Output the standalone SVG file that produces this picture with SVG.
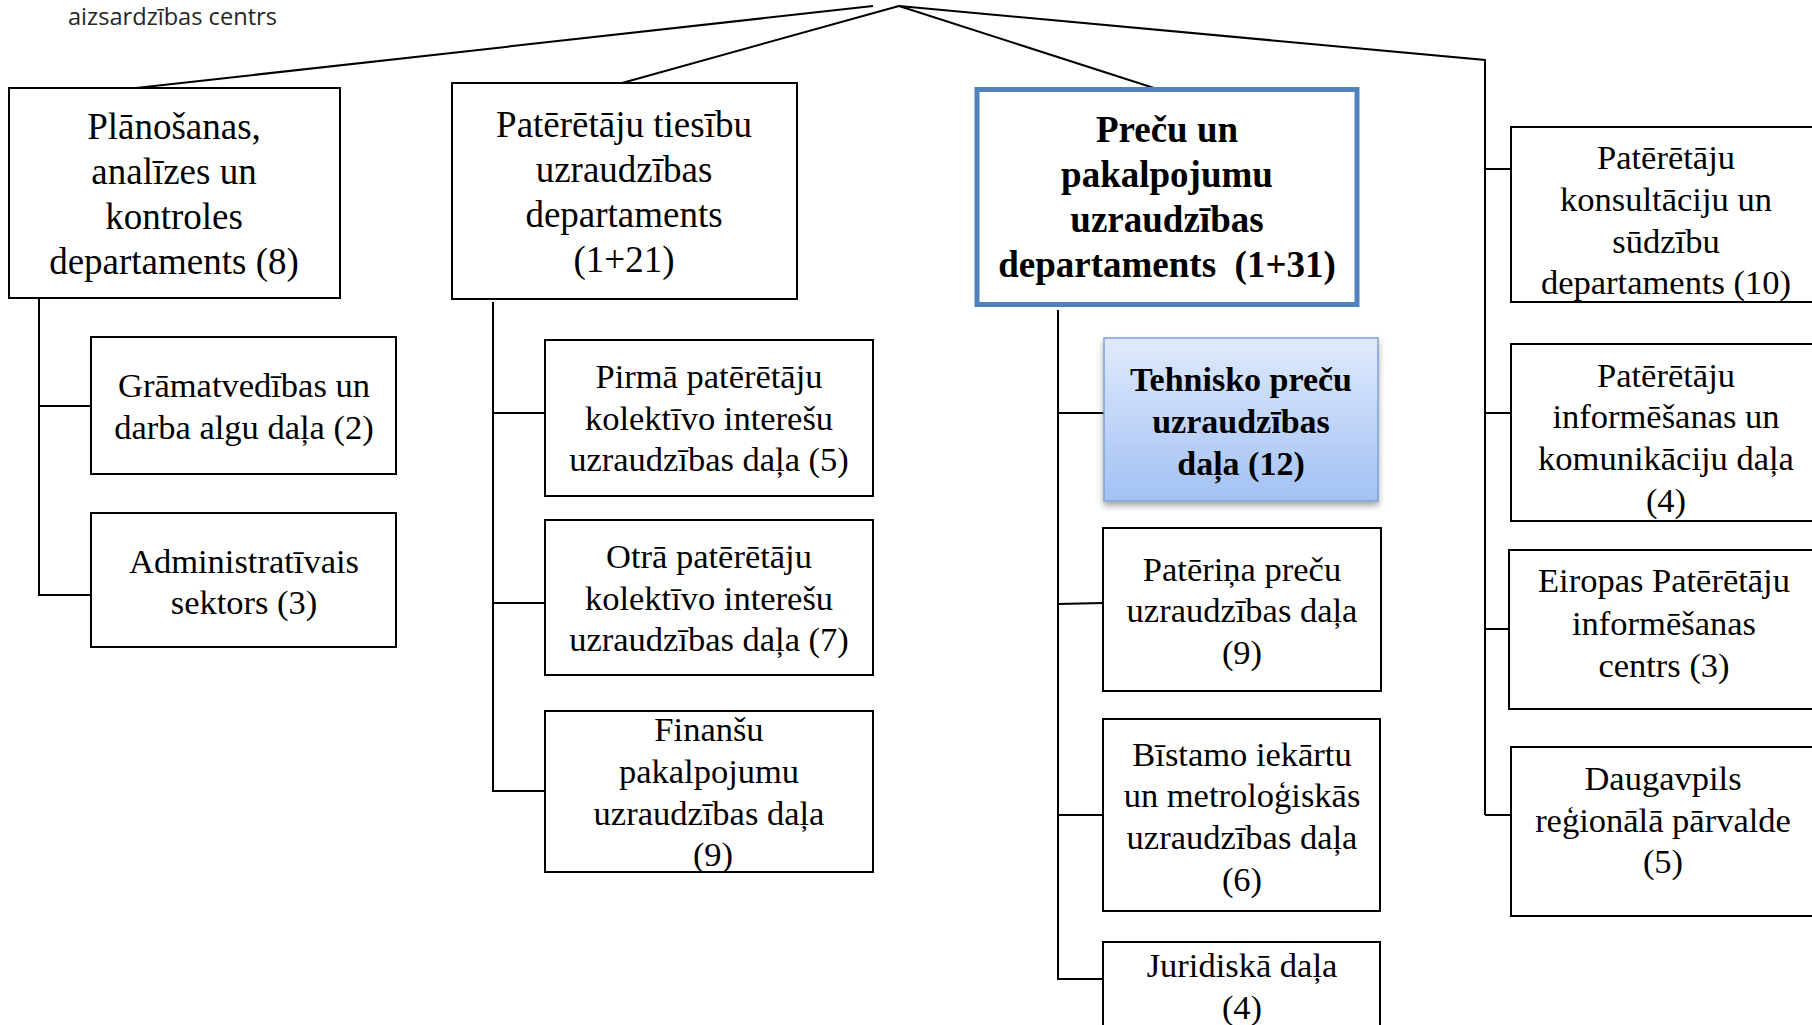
<svg xmlns="http://www.w3.org/2000/svg" width="1812" height="1025" viewBox="0 0 1812 1025">
<style>
.box{fill:#fff;stroke:#000;stroke-width:2}
.t{font-family:"Liberation Serif","Times New Roman",serif;font-size:34.5px;fill:#000;text-anchor:middle}
.tl{font-size:37px}
.b{font-weight:bold}
.c{fill:none;stroke:#000;stroke-width:2}
</style>
<defs>
<linearGradient id="gb" x1="0" y1="0" x2="0" y2="1">
<stop offset="0" stop-color="#dfeafc"/>
<stop offset="1" stop-color="#a3c1f4"/>
</linearGradient>
<filter id="sh" x="-10%" y="-10%" width="120%" height="130%">
<feDropShadow dx="0" dy="4" stdDeviation="3" flood-color="#000" flood-opacity="0.35"/>
</filter>
</defs>
<rect width="1812" height="1025" fill="#fff"/>
<text x="68" y="25" font-family="'Open Sans','DejaVu Sans',sans-serif" font-size="24" fill="#262626" textLength="209" lengthAdjust="spacingAndGlyphs">aizsardzības centrs</text>
<g id="connectors">
<path class="c" d="M873 6 L136 88"/>
<path class="c" d="M899 6 L622 83"/>
<path class="c" d="M899 6 L1154 88"/>
<path class="c" d="M899 6 L1485 60 L1485 815"/>
<path class="c" d="M39 298 L39 595 L91 595 M39 406 L91 406"/>
<path class="c" d="M493 302 L493 791 L545 791 M493 413 L545 413 M493 603 L545 603"/>
<path class="c" d="M1058 310 L1058 979 L1103 979 M1058 413 L1104 413 M1058 604 L1103 603 M1058 815 L1103 815"/>
<path class="c" d="M1485 169 L1511 169 M1485 413 L1511 413 M1485 629 L1509 629 M1485 815 L1511 815"/>
<path d="M1154 304 L1181 304" stroke="#000" stroke-width="2.5"/>
</g>
<g id="n1">
<rect class="box" x="9" y="88" width="331" height="210"/>
<text class="t tl"><tspan x="174" y="139">Plānošanas,</tspan><tspan x="174" y="184">analīzes un</tspan><tspan x="174" y="229">kontroles</tspan><tspan x="174" y="274">departaments (8)</tspan></text>
</g>
<g id="n2">
<rect class="box" x="91" y="337" width="305" height="137"/>
<text class="t"><tspan x="244" y="397">Grāmatvedības un</tspan><tspan x="244" y="439">darba algu daļa (2)</tspan></text>
</g>
<g id="n3">
<rect class="box" x="91" y="513" width="305" height="134"/>
<text class="t"><tspan x="244" y="573">Administratīvais</tspan><tspan x="244" y="614">sektors (3)</tspan></text>
</g>
<g id="n4">
<rect class="box" x="452" y="83" width="345" height="216"/>
<text class="t tl"><tspan x="624" y="137">Patērētāju tiesību</tspan><tspan x="624" y="182">uzraudzības</tspan><tspan x="624" y="227">departaments</tspan><tspan x="624" y="272">(1+21)</tspan></text>
</g>
<g id="n5">
<rect class="box" x="545" y="340" width="328" height="156"/>
<text class="t"><tspan x="709" y="388">Pirmā patērētāju</tspan><tspan x="709" y="430">kolektīvo interešu</tspan><tspan x="709" y="471">uzraudzības daļa (5)</tspan></text>
</g>
<g id="n6">
<rect class="box" x="545" y="520" width="328" height="155"/>
<text class="t"><tspan x="709" y="568">Otrā patērētāju</tspan><tspan x="709" y="610">kolektīvo interešu</tspan><tspan x="709" y="651">uzraudzības daļa (7)</tspan></text>
</g>
<g id="n7">
<rect class="box" x="545" y="711" width="328" height="161"/>
<text class="t"><tspan x="709" y="741">Finanšu</tspan><tspan x="709" y="783">pakalpojumu</tspan><tspan x="709" y="825">uzraudzības daļa</tspan><tspan x="713" y="866">(9)</tspan></text>
</g>
<g id="n8">
<rect x="977" y="89.5" width="380" height="215" fill="#fff" stroke="#4f81bd" stroke-width="5"/>
<text class="t tl b"><tspan x="1167" y="142">Preču un</tspan><tspan x="1167" y="187">pakalpojumu</tspan><tspan x="1167" y="232">uzraudzības</tspan><tspan x="1167" y="277">departaments&#160; (1+31)</tspan></text>
</g>
<g id="n9">
<rect x="1104" y="338" width="274" height="163" fill="url(#gb)" stroke="#7ea1d6" stroke-width="1.5" filter="url(#sh)"/>
<text class="t b" style="font-size:34px"><tspan x="1241" y="391">Tehnisko preču</tspan><tspan x="1241" y="433">uzraudzības</tspan><tspan x="1241" y="475">daļa (12)</tspan></text>
</g>
<g id="n10">
<rect class="box" x="1103" y="528" width="278" height="163"/>
<text class="t"><tspan x="1242" y="581">Patēriņa preču</tspan><tspan x="1242" y="622">uzraudzības daļa</tspan><tspan x="1242" y="664">(9)</tspan></text>
</g>
<g id="n11">
<rect class="box" x="1103" y="719" width="277" height="192"/>
<text class="t"><tspan x="1242" y="766">Bīstamo iekārtu</tspan><tspan x="1242" y="807">un metroloģiskās</tspan><tspan x="1242" y="849">uzraudzības daļa</tspan><tspan x="1242" y="891">(6)</tspan></text>
</g>
<g id="n12">
<rect class="box" x="1103" y="942" width="277" height="100"/>
<text class="t"><tspan x="1242" y="977">Juridiskā daļa</tspan><tspan x="1242" y="1019">(4)</tspan></text>
</g>
<g id="n13">
<rect class="box" x="1511" y="127" width="330" height="175"/>
<text class="t"><tspan x="1666" y="169">Patērētāju</tspan><tspan x="1666" y="211">konsultāciju un</tspan><tspan x="1666" y="253">sūdzību</tspan><tspan x="1666" y="294">departaments (10)</tspan></text>
</g>
<g id="n14">
<rect class="box" x="1511" y="344" width="330" height="177"/>
<text class="t"><tspan x="1666" y="387">Patērētāju</tspan><tspan x="1666" y="428">informēšanas un</tspan><tspan x="1666" y="470">komunikāciju daļa</tspan><tspan x="1666" y="512">(4)</tspan></text>
</g>
<g id="n15">
<rect class="box" x="1509" y="550" width="332" height="159"/>
<text class="t"><tspan x="1664" y="592">Eiropas Patērētāju</tspan><tspan x="1664" y="635">informēšanas</tspan><tspan x="1664" y="677">centrs (3)</tspan></text>
</g>
<g id="n16">
<rect class="box" x="1511" y="747" width="330" height="169"/>
<text class="t"><tspan x="1663" y="790">Daugavpils</tspan><tspan x="1663" y="832">reģionālā pārvalde</tspan><tspan x="1663" y="873">(5)</tspan></text>
</g>
</svg>
